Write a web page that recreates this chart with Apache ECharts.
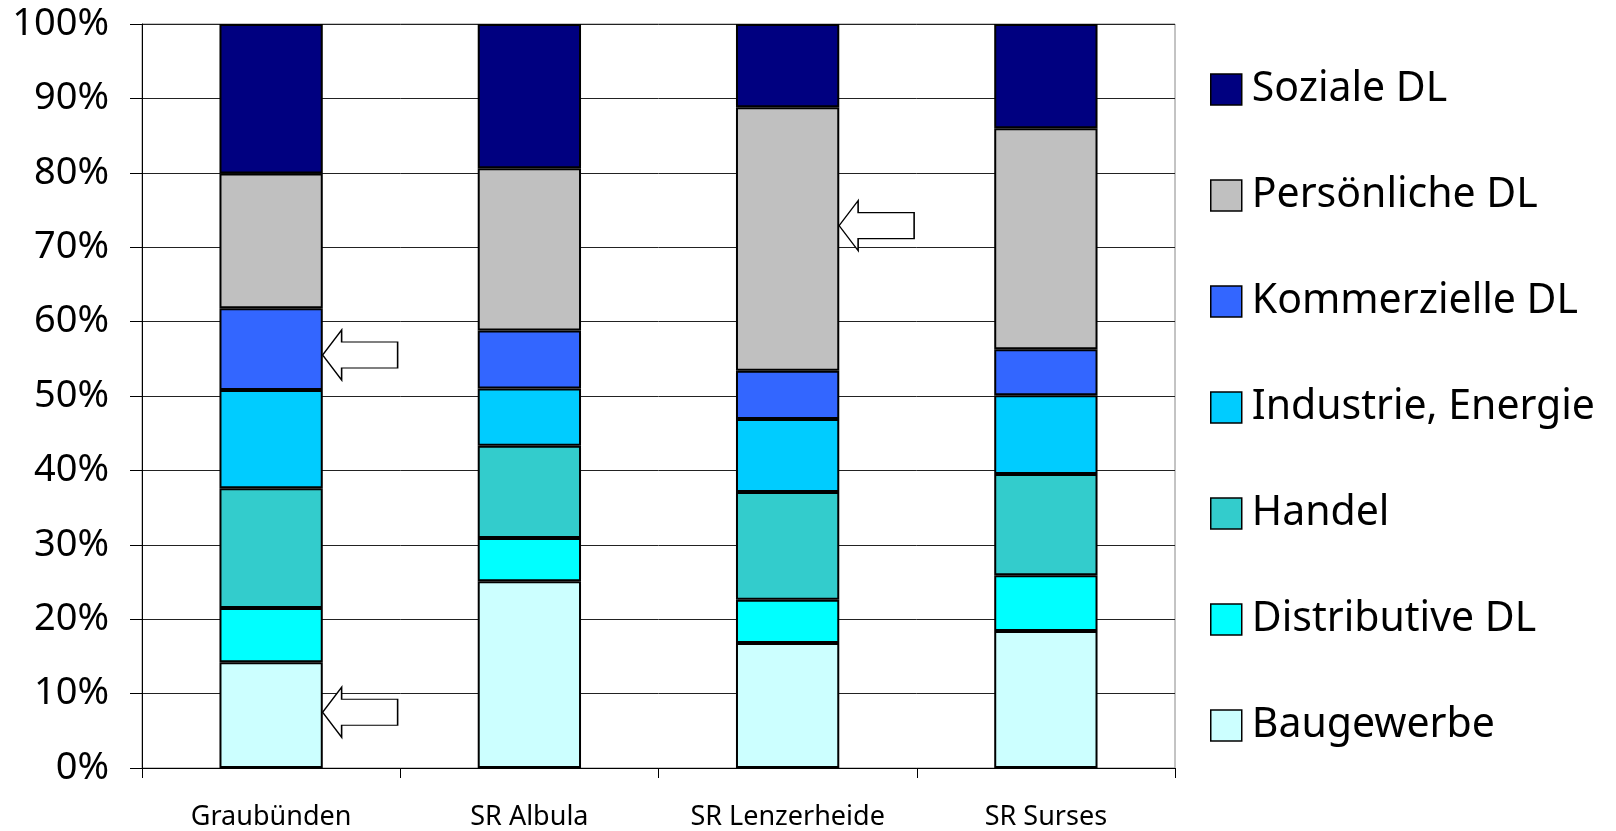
<!DOCTYPE html>
<html>
<head>
<meta charset="utf-8">
<script src="https://cdn.jsdelivr.net/npm/echarts@6/dist/echarts.min.js"></script>
<style>html,body{margin:0;padding:0;background:#fff;}#c{width:1616px;height:831px;}</style>
</head>
<body>
<div id="c"></div>
<script>
const categories = ['Graubünden', 'SR Albula', 'SR Lenzerheide', 'SR Surses'];
const seriesNames = ['Baugewerbe', 'Distributive DL', 'Handel', 'Industrie, Energie', 'Kommerzielle DL', 'Persönliche DL', 'Soziale DL'];
const baugewerbe   = [14.2, 25.1, 16.8, 18.4];
const distributive = [7.3, 5.8, 5.8, 7.5];
const handel       = [16.1, 12.4, 14.5, 13.6];
const industrie    = [13.2, 7.7, 9.8, 10.6];
const kommerzielle = [11.0, 7.8, 6.5, 6.2];
const persoenliche = [18.1, 21.8, 35.4, 29.7];
const soziale      = [20.1, 19.4, 11.2, 14.0];
const yTicks = [0, 10, 20, 30, 40, 50, 60, 70, 80, 90, 100];
const colors = ['#CCFFFF', '#00FFFF', '#33CCCC', '#00CCFF', '#3366FF', '#C0C0C0', '#000080'];
// arrow annotations: [category, value]
const arrows = [['Graubünden', 55.5], ['Graubünden', 7.5], ['SR Lenzerheide', 72.9]];

const values = [baugewerbe, distributive, handel, industrie, kommerzielle, persoenliche, soziale];
const FONT = 'Noto Sans';
const arrowPath = 'path://M0,25 L19,0 L19,12 L75,12 L75,38 L19,38 L19,50 Z';

const series = seriesNames.map((name, i) => {
  const s = {
    name: name,
    type: 'bar',
    stack: 'total',
    barWidth: '40%',
    data: values[i],
    itemStyle: { color: colors[i], borderColor: '#000', borderWidth: 2 },
    emphasis: { disabled: true }
  };
  if (i === seriesNames.length - 1) {
    s.markPoint = {
      symbol: arrowPath,
      symbolSize: [75, 50],
      symbolOffset: [89, 0],
      itemStyle: { color: '#fff', borderColor: '#000', borderWidth: 1.3 },
      label: { show: false },
      data: arrows.map(a => ({ coord: [a[0], a[1]] }))
    };
  }
  return s;
});

const chart = echarts.init(document.getElementById('c'), null, { renderer: 'canvas' });
chart.setOption({
  animation: false,
  backgroundColor: '#fff',
  grid: { left: 142, right: 441, top: 24, bottom: 63, show: true, borderColor: '#888', borderWidth: 1 },
  legend: {
    orient: 'vertical',
    left: 1205,
    top: 63,
    icon: 'rect',
    itemWidth: 31,
    itemHeight: 31,
    itemGap: 63,
    data: seriesNames.slice().reverse(),
    itemStyle: { borderColor: '#000', borderWidth: 1.5 },
    textStyle: { fontFamily: FONT, fontSize: 41, color: '#000', lineHeight: 43, padding: [0, 0, 0, 5] }
  },
  xAxis: {
    type: 'category',
    data: categories,
    axisLine: { lineStyle: { color: '#000', width: 1 } },
    axisTick: { show: true, length: 10, lineStyle: { color: '#000' } },
    axisLabel: { fontFamily: FONT, fontSize: 27, color: '#000', margin: 36 }
  },
  yAxis: {
    type: 'value',
    min: yTicks[0],
    max: yTicks[yTicks.length - 1],
    interval: 10,
    axisLine: { show: true, lineStyle: { color: '#000', width: 1 } },
    axisTick: { show: true, length: 12, lineStyle: { color: '#000' } },
    axisLabel: { fontFamily: FONT, fontSize: 38, color: '#000', margin: 33, formatter: '{value}%' },
    splitLine: { show: true, lineStyle: { color: '#222', width: 1 } }
  },
  series: series
});
</script>
</body>
</html>
